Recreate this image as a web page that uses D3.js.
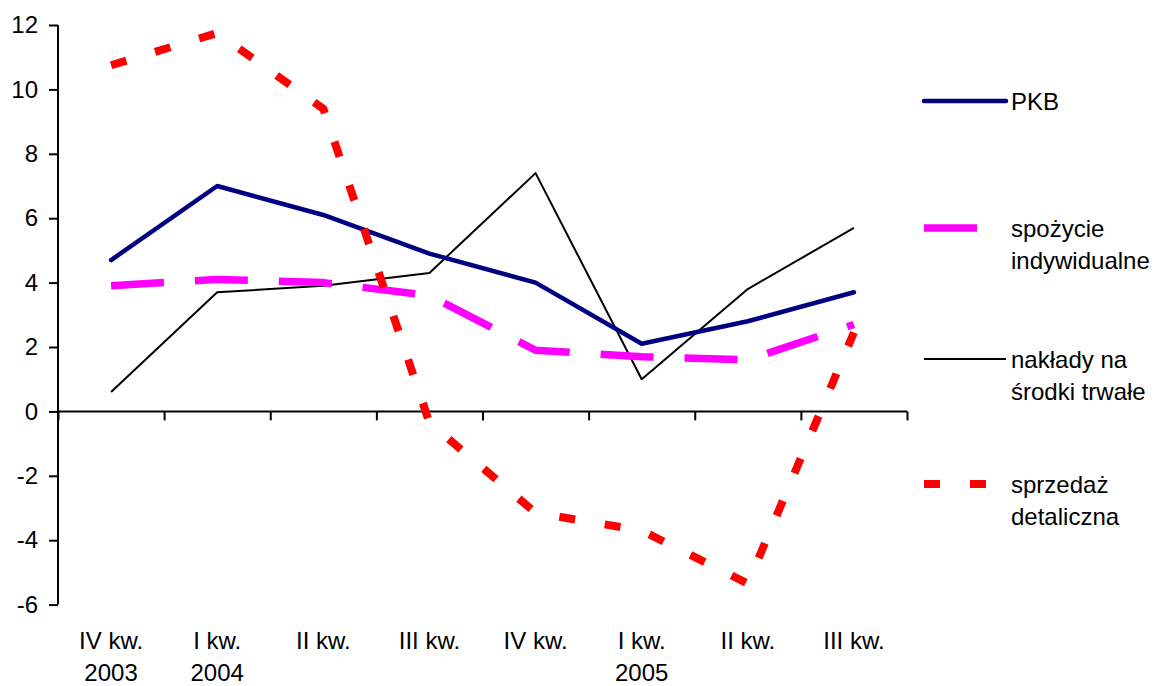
<!DOCTYPE html>
<html>
<head>
<meta charset="utf-8">
<script src="https://cdn.jsdelivr.net/npm/d3@7"></script>
<style>
  body { margin: 0; background: #fff; }
  svg { display: block; }
  text { font-family: Arial, "Liberation Sans", sans-serif; fill: #000; }
</style>
</head>
<body>
<svg id="chart" width="1168" height="686"></svg>
<script>
// ---- data ----
const categories = ["IV kw.|2003", "I kw.|2004", "II kw.", "III kw.", "IV kw.", "I kw.|2005", "II kw.", "III kw."];
const pkb       = [4.7, 7.0, 6.1, 4.9, 4.0, 2.1, 2.8, 3.7];
const spozycie  = [3.9, 4.1, 4.0, 3.6, 1.9, 1.7, 1.6, 2.7];
const naklady   = [0.6, 3.7, 3.9, 4.3, 7.4, 1.0, 3.8, 5.7];
const sprzedaz  = [10.75, 11.75, 9.4, -0.35, -3.15, -3.7, -5.35, 2.45];
const yTicks = [-6, -4, -2, 0, 2, 4, 6, 8, 10, 12];
const seriesNames = ["PKB", "spożycie|indywidualne", "nakłady na|środki trwałe", "sprzedaż|detaliczna"];

const FONT = 24;
const svg = d3.select("#chart");

const idx = d3.range(categories.length);
const x = d3.scaleBand().domain(idx).range([58, 907]).padding(0);
const xEdge = d3.scaleLinear().domain([0, categories.length]).range([58, 907]);
const y = d3.scaleLinear().domain([-6, 12]).range([604.6, 25]);

// y axis
const yAxis = svg.append("g").attr("transform", "translate(58,0)")
  .call(d3.axisLeft(y).tickValues(yTicks).tickSize(9).tickPadding(11).tickFormat(d => String(d)));
yAxis.selectAll("path,line").attr("stroke", "#000").attr("stroke-width", 2);
yAxis.select(".domain").attr("d", `M0,${y(12)}V${y(-6)}`);
yAxis.selectAll("text").attr("font-size", FONT).attr("font-family", "Arial, 'Liberation Sans', sans-serif");

// x axis at zero
const xAxis = svg.append("g").attr("transform", `translate(0,${y(0)})`)
  .call(d3.axisBottom(xEdge).tickValues(d3.range(0, categories.length + 1)).tickSize(9).tickFormat(""));
xAxis.selectAll("path,line").attr("stroke", "#000").attr("stroke-width", 2);
xAxis.select(".domain").attr("d", `M${xEdge(0)},0H${xEdge(categories.length)}`);

// x labels
const xl = svg.append("g");
categories.forEach((c, i) => {
  const lines = c.split("|");
  const px = x(i) + x.bandwidth() / 2;
  const t = xl.append("text").attr("text-anchor", "middle").attr("font-size", FONT);
  lines.forEach((l, j) => t.append("tspan").attr("x", px).attr("y", 649 + j * 32).text(l));
});

const cx = (d, i) => x(i) + x.bandwidth() / 2;
const line = d3.line().x(cx).y(d => y(d));

const styles = [
  { data: pkb, stroke: "#000080", width: 4.5, dash: null, cap: "round" },
  { data: spozycie, stroke: "#FF00FF", width: 7.5, dash: "53,31", cap: "butt" },
  { data: naklady, stroke: "#000000", width: 2, dash: null, cap: "butt" },
  { data: sprzedaz, stroke: "#FF0000", width: 8, dash: "16,30", cap: "butt" }
];
const drawOrder = [2, 1, 0, 3];
drawOrder.forEach(k => {
  const s = styles[k];
  svg.append("path").datum(s.data).attr("d", line).attr("fill", "none")
    .attr("stroke", s.stroke).attr("stroke-width", s.width)
    .attr("stroke-dasharray", s.dash).attr("stroke-linecap", s.cap)
    .attr("stroke-linejoin", "round");
});

// legend
const legY = [101, 228, 359, 484];
const leg = svg.append("g");
seriesNames.forEach((name, k) => {
  const s = styles[k];
  const ly = legY[k];
  leg.append("line").attr("x1", 924).attr("x2", k === 1 ? 978 : (k === 3 ? 987 : 1006))
    .attr("y1", ly).attr("y2", ly)
    .attr("stroke", s.stroke).attr("stroke-width", s.width)
    .attr("stroke-dasharray", s.dash).attr("stroke-linecap", s.cap);
  const t = leg.append("text").attr("font-size", FONT);
  name.split("|").forEach((l, i) => t.append("tspan").attr("x", 1011).attr("y", ly + 9 + i * 32).text(l));
});
</script>
</body>
</html>
